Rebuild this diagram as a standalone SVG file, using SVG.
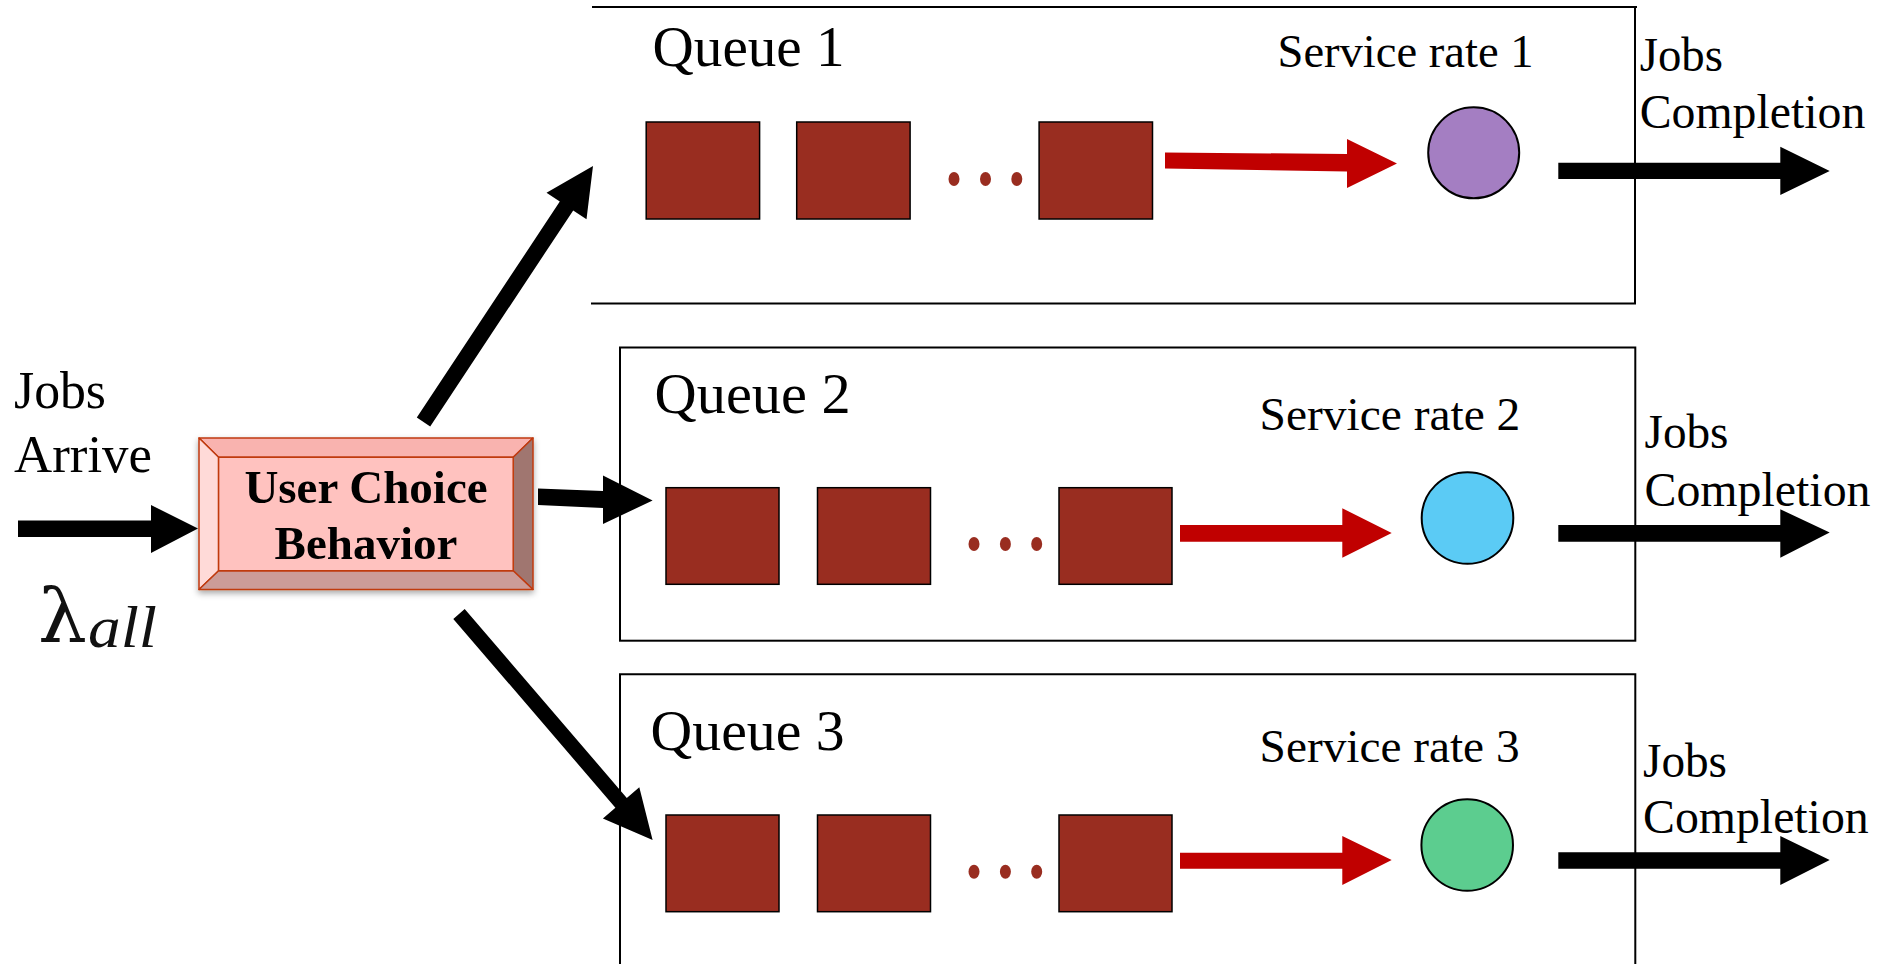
<svg xmlns="http://www.w3.org/2000/svg" width="1877" height="964" viewBox="0 0 1877 964">
  <defs>
    <style>
      .lbl { font-family: "Liberation Serif", "Times New Roman", serif; fill: #000; }
      .qname { font-size: 56px; }
      .rate { font-size: 46px; }
      .out { font-size: 48px; }
      .inp { font-size: 52px; }
      .frame { fill: none; stroke: #000; stroke-width: 2; }
      .job { fill: #992D20; stroke: #000; stroke-width: 1.5; }
      .dot { fill: #992D20; }
      .feed { fill: #C00000; }
      .flow { fill: #000; }
      .server { stroke: #000; stroke-width: 2; }
      .bevel { stroke: #C03A10; stroke-width: 1.5; stroke-linejoin: round; }
    </style>
    <filter id="shadow" x="-10%" y="-10%" width="120%" height="130%">
      <feDropShadow dx="0" dy="3" stdDeviation="3" flood-color="#000" flood-opacity="0.35"/>
    </filter>
  </defs>

  <rect width="1877" height="964" fill="#fff"/>

  <!-- arrival side -->
  <g id="arrival">
    <text class="lbl inp" x="14" y="408" textLength="92" lengthAdjust="spacingAndGlyphs">Jobs</text>
    <text class="lbl inp" x="14" y="471.5" textLength="138" lengthAdjust="spacingAndGlyphs">Arrive</text>
    <text x="38" y="642" font-family="DejaVu Serif, serif" font-size="74" fill="#111" textLength="49" lengthAdjust="spacingAndGlyphs">λ</text>
    <text x="88" y="647" font-family="Liberation Serif, serif" font-style="italic" font-size="60" fill="#111" textLength="69" lengthAdjust="spacingAndGlyphs">all</text>
  </g>

  <!-- dispatcher -->
  <g id="user-choice" filter="url(#shadow)">
    <polygon class="bevel" fill="#F9B3AF" points="199,438 533,438 513.2,457.3 218.6,457.3"/>
    <polygon class="bevel" fill="#FFDAD8" points="199,438 218.6,457.3 218.6,570.7 199,589.5"/>
    <polygon class="bevel" fill="#A07670" points="533,438 533,589.5 513.2,570.7 513.2,457.3"/>
    <polygon class="bevel" fill="#CC9C98" points="199,589.5 218.6,570.7 513.2,570.7 533,589.5"/>
    <rect class="bevel" fill="#FFC2BF" x="218.6" y="457.3" width="294.6" height="113.4"/>
    <text class="lbl" x="366" y="503" font-size="47" font-weight="bold" text-anchor="middle">User Choice</text>
    <text class="lbl" x="366" y="559" font-size="47" font-weight="bold" text-anchor="middle">Behavior</text>
  </g>

  <!-- queue 1 -->
  <g id="queue-1">
    <path class="frame" d="M592,7 H1637 M1635,7 V303.5 H591"/>
    <text class="lbl qname" x="652.6" y="65.5" textLength="192" lengthAdjust="spacingAndGlyphs">Queue 1</text>
    <text class="lbl rate" x="1277.5" y="66.5" textLength="256" lengthAdjust="spacingAndGlyphs">Service rate 1</text>
    <rect class="job" x="646.2" y="122" width="113.4" height="97"/>
    <rect class="job" x="796.7" y="122" width="113.4" height="97"/>
    <rect class="job" x="1039.1" y="122" width="113.4" height="97"/>
    <ellipse class="dot" cx="954" cy="179" rx="5.5" ry="7"/>
    <ellipse class="dot" cx="985.5" cy="179" rx="5.5" ry="7"/>
    <ellipse class="dot" cx="1016.8" cy="179" rx="5.5" ry="7"/>
    <polygon class="feed" points="1165,152.5 1347,154 1347,139 1397,163.5 1347,188 1347,171.5 1165,168.5"/>
    <circle class="server" cx="1473.7" cy="152.8" r="45.5" fill="#A47EC2"/>
  </g>

  <!-- queue 2 -->
  <g id="queue-2">
    <rect class="frame" x="620" y="347.5" width="1015.3" height="293.2"/>
    <text class="lbl qname" x="654.6" y="412.7" textLength="196" lengthAdjust="spacingAndGlyphs">Queue 2</text>
    <text class="lbl rate" x="1259.6" y="430" textLength="260.7" lengthAdjust="spacingAndGlyphs">Service rate 2</text>
    <rect class="job" x="666" y="487.7" width="113" height="96.6"/>
    <rect class="job" x="817.5" y="487.7" width="113" height="96.6"/>
    <rect class="job" x="1059" y="487.7" width="113" height="96.6"/>
    <ellipse class="dot" cx="974" cy="544" rx="5.5" ry="7"/>
    <ellipse class="dot" cx="1005.4" cy="544" rx="5.5" ry="7"/>
    <ellipse class="dot" cx="1036.7" cy="544" rx="5.5" ry="7"/>
    <polygon class="feed" points="1180,525 1342.3,525 1342.3,508.3 1391.7,533 1342.3,557.7 1342.3,541.7 1180,541.7"/>
    <circle class="server" cx="1467.5" cy="518" r="45.8" fill="#5BCBF5"/>
  </g>

  <!-- queue 3 -->
  <g id="queue-3">
    <path class="frame" d="M620,966 V674.3 H1635.3 V966"/>
    <text class="lbl qname" x="650.6" y="750" textLength="194" lengthAdjust="spacingAndGlyphs">Queue 3</text>
    <text class="lbl rate" x="1259.6" y="761.7" textLength="260" lengthAdjust="spacingAndGlyphs">Service rate 3</text>
    <rect class="job" x="666" y="815" width="113" height="96.7"/>
    <rect class="job" x="817.5" y="815" width="113" height="96.7"/>
    <rect class="job" x="1059" y="815" width="113" height="96.7"/>
    <ellipse class="dot" cx="974" cy="871.7" rx="5.5" ry="7"/>
    <ellipse class="dot" cx="1005.4" cy="871.7" rx="5.5" ry="7"/>
    <ellipse class="dot" cx="1036.7" cy="871.7" rx="5.5" ry="7"/>
    <polygon class="feed" points="1180,852.7 1342.3,852.7 1342.3,836 1391.7,860 1342.3,885 1342.3,868.7 1180,868.7"/>
    <circle class="server" cx="1467.2" cy="845" r="45.8" fill="#5CCD8F"/>
  </g>

  <!-- connectors -->
  <g id="connectors">
    <polygon class="flow" points="18,520.5 151,520.5 151,505 198,528.5 151,553 151,537 18,537"/>
    <polygon class="flow" points="416.8,417.6 559.8,201.6 546.5,192.8 593,166 586.5,219.3 573.2,210.4 430.2,426.4"/>
    <polygon class="flow" points="538,488.5 603,491 603,475.5 652.6,500.5 603,524 603,508 538,505"/>
    <polygon class="flow" points="464.7,609.1 626.8,797.9 639.3,787.2 652.6,840 602.9,818.4 615.4,807.7 453.3,618.9"/>
    <polygon class="flow" points="1558.3,162.7 1780.3,162.7 1780.3,146.7 1829.7,171 1780.3,195 1780.3,179 1558.3,179"/>
    <polygon class="flow" points="1558.3,525 1780.3,525 1780.3,509.3 1829.7,532.5 1780.3,557.7 1780.3,541.7 1558.3,541.7"/>
    <polygon class="flow" points="1558.3,852.3 1780.3,852.3 1780.3,836 1829.7,860 1780.3,885 1780.3,868.7 1558.3,868.7"/>
  </g>

  <!-- completion labels -->
  <g id="completion-labels">
    <text class="lbl out" x="1639.7" y="70.7" textLength="83.3" lengthAdjust="spacingAndGlyphs">Jobs</text>
    <text class="lbl out" x="1639.7" y="128.3" textLength="225.6" lengthAdjust="spacingAndGlyphs">Completion</text>
    <text class="lbl out" x="1644.5" y="448.3" textLength="84" lengthAdjust="spacingAndGlyphs">Jobs</text>
    <text class="lbl out" x="1644.5" y="506" textLength="226" lengthAdjust="spacingAndGlyphs">Completion</text>
    <text class="lbl out" x="1643" y="776.7" textLength="84" lengthAdjust="spacingAndGlyphs">Jobs</text>
    <text class="lbl out" x="1643" y="833.3" textLength="225.7" lengthAdjust="spacingAndGlyphs">Completion</text>
  </g>
</svg>
